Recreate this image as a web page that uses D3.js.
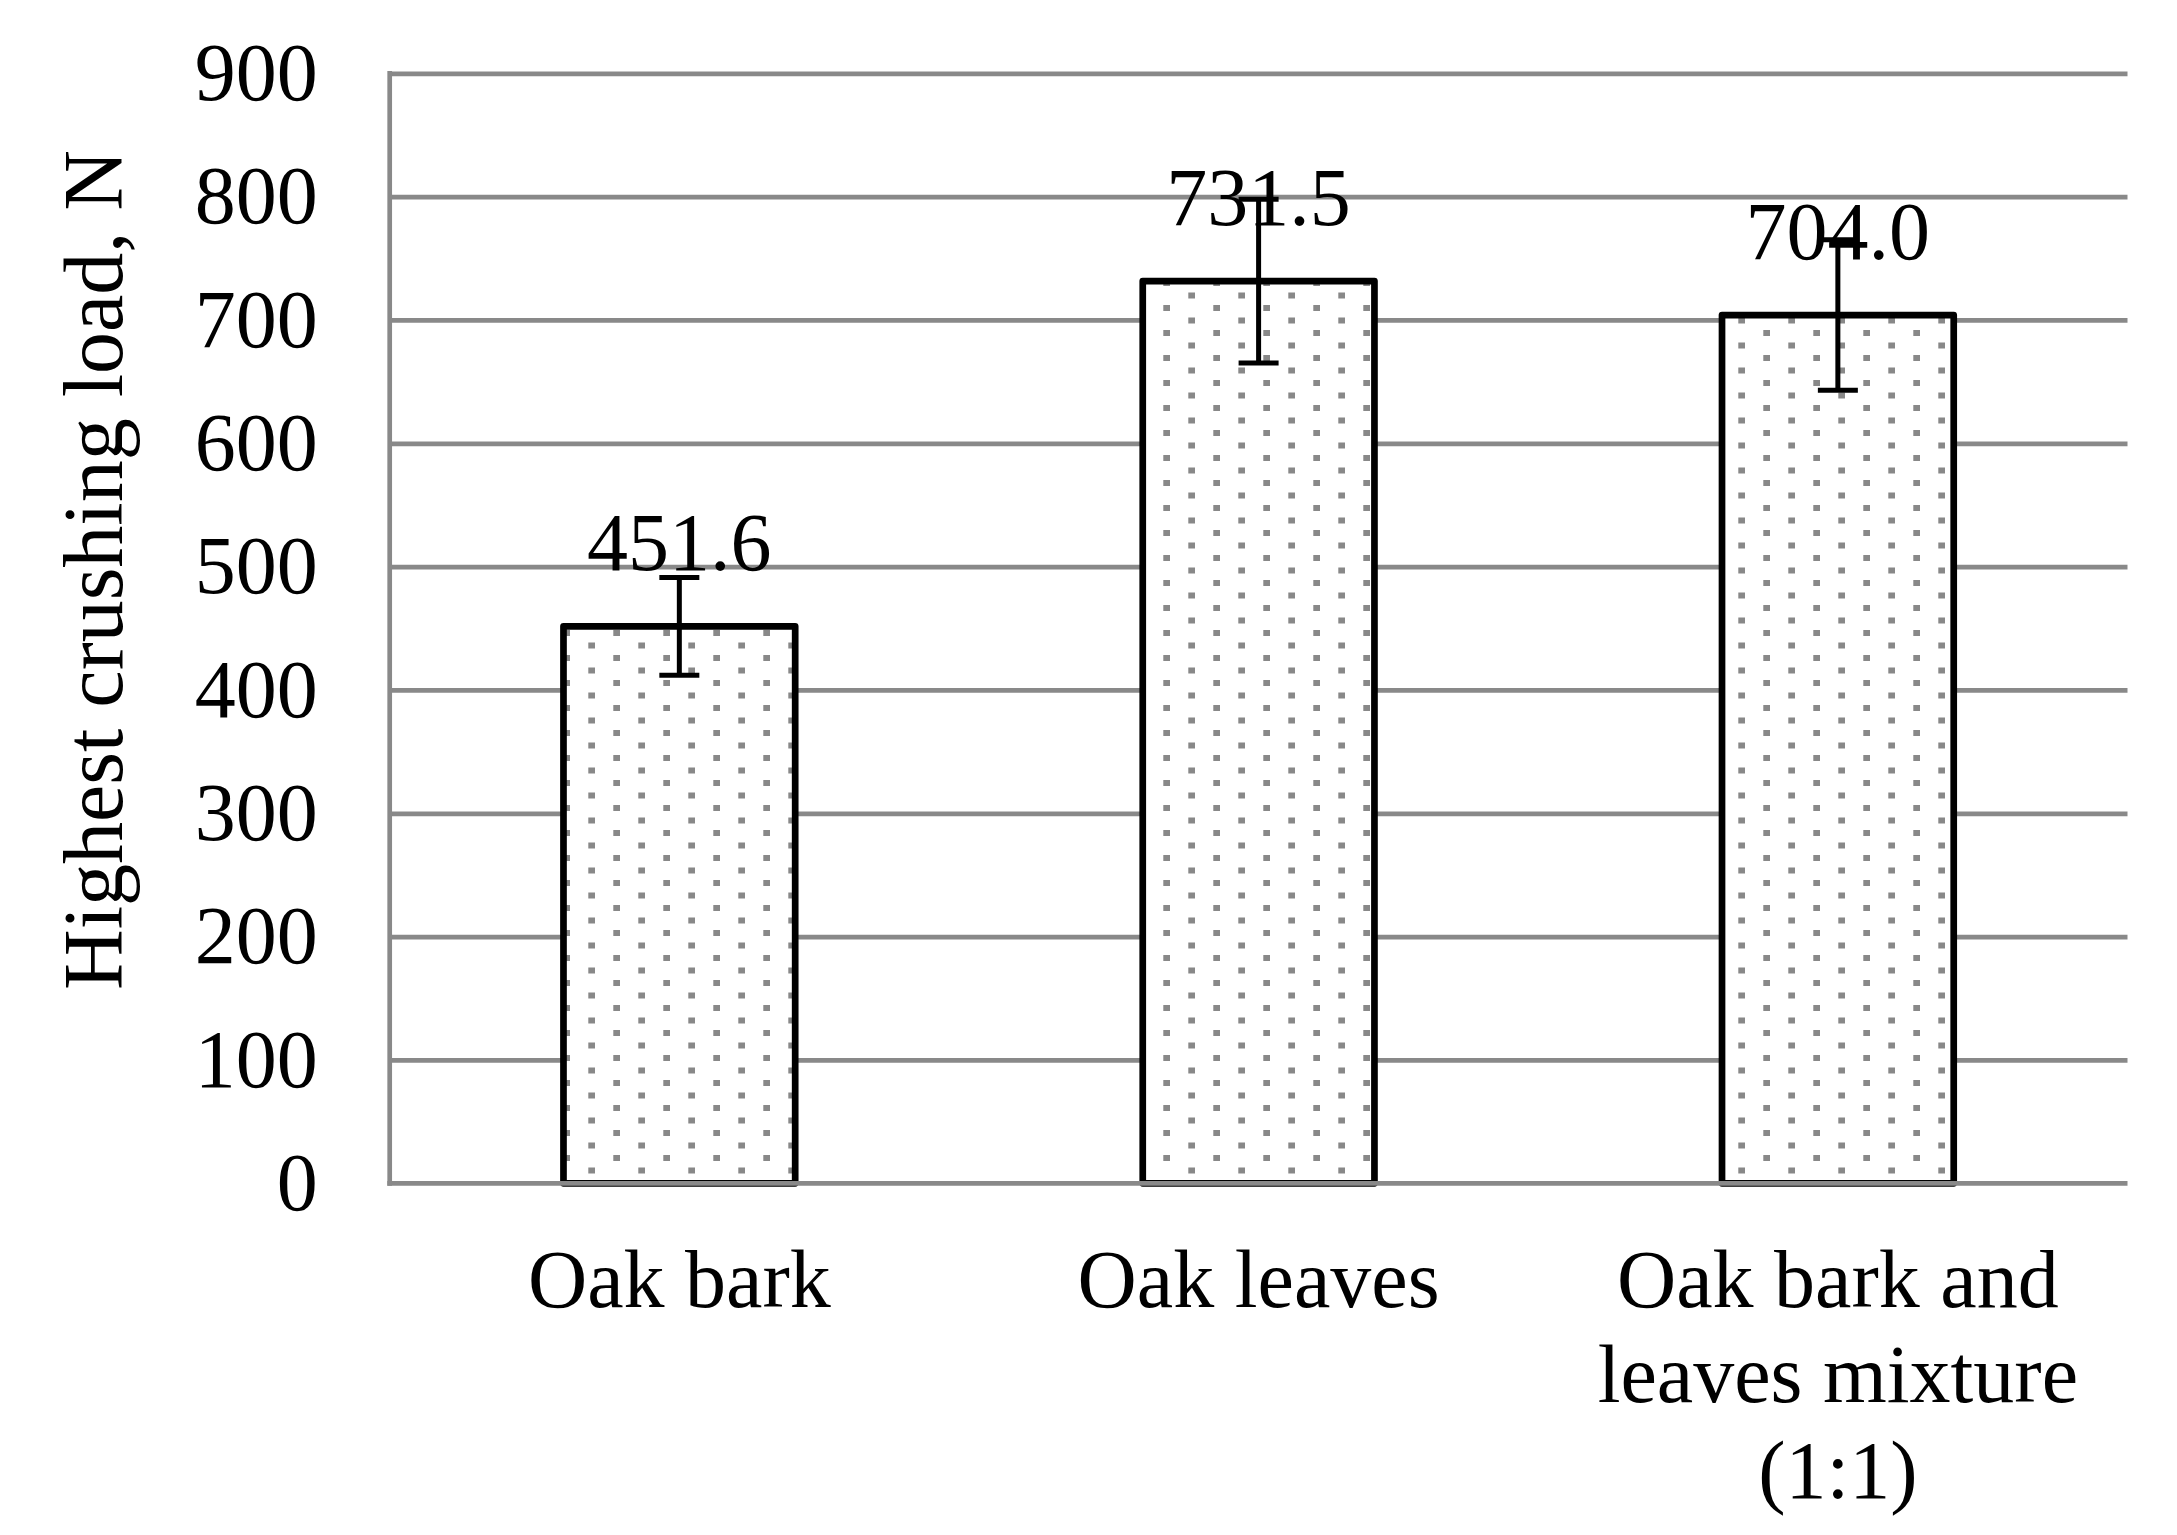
<!DOCTYPE html>
<html>
<head>
<meta charset="utf-8">
<script src="https://cdn.jsdelivr.net/npm/d3@7"></script>
<style>
  html, body { margin: 0; padding: 0; background: #fff; }
  svg { display: block; }
  text { font-family: "Liberation Serif", "Times New Roman", Times, serif; fill: #000; }
</style>
</head>
<body>
<svg id="chart" width="2177" height="1535"></svg>
<script>
// ---- data ----
const categories = ["Oak bark", "Oak leaves", "Oak bark and leaves mixture (1:1)"];
const categoryLines = [["Oak bark"], ["Oak leaves"], ["Oak bark and", "leaves mixture", "(1:1)"]];
const values = [451.6, 731.5, 704.0];
const errors = [39.6, 66.3, 61.0];
const valueLabels = ["451.6", "731.5", "704.0"];
const yTicks = [0, 100, 200, 300, 400, 500, 600, 700, 800, 900];
const yTitle = "Highest crushing load, N";

// ---- layout ----
const W = 2177, H = 1535;
const plot = { left: 389.7, right: 2127.5, top: 73.3, bottom: 1183.3 };
const gridColor = "#898989";
const fontSize = 82;

const svg = d3.select("#chart");
svg.append("rect").attr("width", W).attr("height", H).attr("fill", "#fff");

// dotted pattern
const defs = svg.append("defs");
const pat = defs.append("pattern")
  .attr("id", "dots").attr("patternUnits", "userSpaceOnUse")
  .attr("x", 0).attr("y", 0).attr("width", 50).attr("height", 25);
pat.append("rect").attr("width", 50).attr("height", 25).attr("fill", "#fff");
pat.append("rect").attr("x", 13.3).attr("y", 5).attr("width", 6.7).attr("height", 6).attr("fill", "#888");
pat.append("rect").attr("x", 38.3).attr("y", 17.5).attr("width", 6.7).attr("height", 6).attr("fill", "#888");

const y = d3.scaleLinear().domain([0, 900]).range([plot.bottom, plot.top]);
const x = d3.scaleBand().domain(categories).range([plot.left, plot.right])
  .paddingInner(0.6).paddingOuter(0.3);

// gridlines
const grid = svg.append("g")
  .attr("transform", `translate(${plot.left},0)`)
  .call(d3.axisLeft(y).tickValues(yTicks.filter(d => d !== 0))
        .tickSize(-(plot.right - plot.left)).tickFormat(""));
grid.select(".domain").remove();
grid.selectAll(".tick line").attr("stroke", gridColor).attr("stroke-width", 4.7);

// left axis line
svg.append("line")
  .attr("x1", plot.left).attr("x2", plot.left)
  .attr("y1", y(900) - 2.35).attr("y2", y(0) + 2.35)
  .attr("stroke", gridColor).attr("stroke-width", 4.7);

// y tick labels
const yAxis = svg.append("g")
  .attr("transform", `translate(${plot.left},0)`)
  .call(d3.axisLeft(y).tickValues(yTicks).tickSize(0).tickPadding(72).tickFormat(d3.format("d")));
yAxis.select(".domain").remove();
yAxis.selectAll("text")
  .attr("font-size", fontSize)
  .attr("font-family", "'Liberation Serif', 'Times New Roman', serif")
  .attr("fill", "#000");

// bars
svg.append("g").selectAll("rect")
  .data(values)
  .join("rect")
  .attr("x", (d, i) => x(categories[i]))
  .attr("y", d => y(d))
  .attr("width", x.bandwidth())
  .attr("height", d => y(0) - y(d))
  .attr("fill", "url(#dots)")
  .attr("stroke", "#000")
  .attr("stroke-width", 6.7)
  .attr("stroke-linejoin", "round");

// zero line over bars
svg.append("line")
  .attr("x1", plot.left - 2.35).attr("x2", plot.right)
  .attr("y1", y(0)).attr("y2", y(0))
  .attr("stroke", gridColor).attr("stroke-width", 4.7);

// error bars
const eg = svg.append("g").attr("stroke", "#000").attr("stroke-width", 5);
values.forEach((v, i) => {
  const cx = x(categories[i]) + x.bandwidth() / 2;
  const hi = y(v + errors[i]), lo = y(v - errors[i]);
  eg.append("line").attr("x1", cx).attr("x2", cx).attr("y1", hi).attr("y2", lo);
  eg.append("line").attr("x1", cx - 20).attr("x2", cx + 20).attr("y1", hi).attr("y2", hi);
  eg.append("line").attr("x1", cx - 20).attr("x2", cx + 20).attr("y1", lo).attr("y2", lo);
});

// value labels
svg.append("g").selectAll("text")
  .data(values)
  .join("text")
  .attr("x", (d, i) => x(categories[i]) + x.bandwidth() / 2)
  .attr("y", d => y(d) - 56)
  .attr("text-anchor", "middle")
  .attr("font-size", fontSize)
  .text((d, i) => valueLabels[i]);

// x axis labels
const xAxis = svg.append("g")
  .attr("transform", `translate(0,${plot.bottom})`)
  .call(d3.axisBottom(x).tickSize(0).tickFormat(""));
xAxis.select(".domain").remove();
xAxis.selectAll(".tick").each(function(d, i) {
  const t = d3.select(this).append("text")
    .attr("text-anchor", "middle")
    .attr("font-size", fontSize)
    .attr("fill", "#000");
  categoryLines[i].forEach((line, j) => {
    t.append("tspan").attr("x", 0).attr("y", 123.7 + j * 95.5).text(line);
  });
});

// y title
svg.append("text")
  .attr("transform", `translate(122,570) rotate(-90)`)
  .attr("text-anchor", "middle")
  .attr("font-size", 84)
  .text(yTitle);
</script>
</body>
</html>
